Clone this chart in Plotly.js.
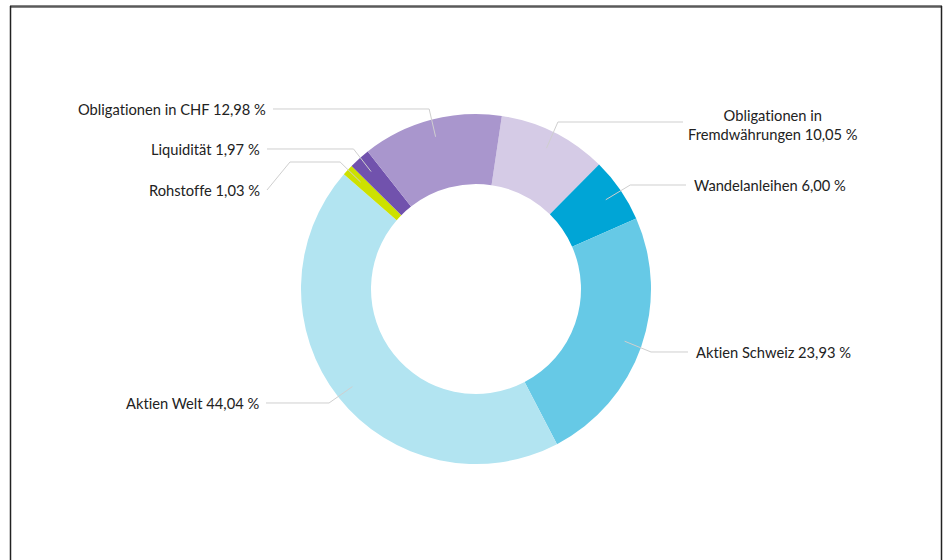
<!DOCTYPE html>
<html>
<head>
<meta charset="utf-8">
<script src="https://cdn.plot.ly/plotly-3.0.1.min.js"></script>
<style>
  html, body { margin: 0; padding: 0; background: #fff; }
  #chart { width: 947px; height: 560px; }
  svg text { font-variant-ligatures: none; font-feature-settings: "liga" 0, "clig" 0; }
</style>
</head>
<body>
<div id="chart"></div>
<script>
// ---- data ----
const categories = [
  "Obligationen in Fremdwährungen",
  "Wandelanleihen",
  "Aktien Schweiz",
  "Aktien Welt",
  "Rohstoffe",
  "Liquidität",
  "Obligationen in CHF"
];
const values = [10.05, 6.00, 23.93, 44.04, 1.03, 1.97, 12.98];
const labelTexts = [
  "Obligationen in<br>Fremdwährungen 10,05 %",
  "Wandelanleihen 6,00 %",
  "Aktien Schweiz 23,93 %",
  "Aktien Welt 44,04 %",
  "Rohstoffe 1,03 %",
  "Liquidität 1,97 %",
  "Obligationen in CHF 12,98 %"
];
const colors = ["#d5cbe6", "#00a5d6", "#66c9e6", "#b2e4f1", "#cde100", "#7152ad", "#a996cd"];

// ---- layout helpers (pixels) ----
const W = 947, H = 560;
const CX = 476, CY = 289, R = 175, HOLE = 0.6;
const ROTATION = 8.5;
// per-label placement: side, label y, connector y, line end x
const side   = ["r", "r", "r", "l", "l", "l", "l"];
const labY   = [124, 185, 352, 403, 190, 149, 109];
const connY  = [122, 185, 352, 403, 162, 149, 109];
const lineX  = [683, 686, 688, 266, 267, 267, 273];
const bendX  = [null, null, null, null, 290, null, null];

const px = x => x / W;
const py = y => 1 - y / H;

const total = values.reduce((a, b) => a + b, 0);
const shapes = [];
const annotations = [];
let acc = 0;
values.forEach((v, i) => {
  const mid = (ROTATION + (acc + v / 2) / total * 360) * Math.PI / 180;
  acc += v;
  const r1 = R * 0.9, r2 = R + 11;
  const x1 = CX + r1 * Math.sin(mid), y1 = CY - r1 * Math.cos(mid);
  const dy = connY[i] - CY;
  const dx = Math.sqrt(Math.max(r2 * r2 - dy * dy, 0));
  const x2 = side[i] === "r" ? CX + dx : CX - dx;
  const pts = [[x1, y1], [x2, connY[i]]];
  if (bendX[i] !== null) {
    pts.push([bendX[i], connY[i]]);
    pts.push([lineX[i], labY[i]]);
  } else {
    pts.push([lineX[i], connY[i]]);
  }
  const path = pts.map((p, k) => (k ? "L" : "M") + px(p[0]).toFixed(5) + "," + py(p[1]).toFixed(5)).join(" ");
  shapes.push({
    type: "path", xref: "paper", yref: "paper", path: path,
    line: { color: "#cfcfcf", width: 1 }, layer: "above"
  });
  const isR = side[i] === "r";
  const multi = labelTexts[i].indexOf("<br>") >= 0;
  annotations.push({
    xref: "paper", yref: "paper",
    x: px(isR ? (multi ? 773 : lineX[i] + 6) : lineX[i] - 5),
    y: py(labY[i]),
    xanchor: isR ? (multi ? "center" : "left") : "right",
    yanchor: "middle",
    align: multi ? "center" : (isR ? "left" : "right"),
    text: labelTexts[i],
    showarrow: false,
    font: { family: "Lato, 'Noto Sans', sans-serif", size: 14.7, color: "#222" }
  });
});

// frame
shapes.push({ type: "line", xref: "paper", yref: "paper", x0: px(10), x1: px(942), y0: py(6.5), y1: py(6.5), line: { color: "#5a5a5a", width: 2.5 } });
shapes.push({ type: "line", xref: "paper", yref: "paper", x0: px(10.5), x1: px(10.5), y0: py(6), y1: py(570), line: { color: "#222", width: 1.5 } });
shapes.push({ type: "line", xref: "paper", yref: "paper", x0: px(941.5), x1: px(941.5), y0: py(6), y1: py(570), line: { color: "#222", width: 1.5 } });

const trace = {
  type: "pie",
  labels: categories,
  values: values,
  sort: false,
  direction: "clockwise",
  rotation: ROTATION,
  hole: HOLE,
  textinfo: "none",
  hoverinfo: "skip",
  marker: { colors: colors, line: { width: 0 } },
  domain: { x: [px(CX - R), px(CX + R)], y: [py(CY + R), py(CY - R)] },
  showlegend: false
};

const layout = {
  width: W, height: H,
  margin: { l: 0, r: 0, t: 0, b: 0 },
  paper_bgcolor: "#fff",
  showlegend: false,
  shapes: shapes,
  annotations: annotations
};

Plotly.newPlot("chart", [trace], layout, { staticPlot: true, displayModeBar: false });
</script>
</body>
</html>
